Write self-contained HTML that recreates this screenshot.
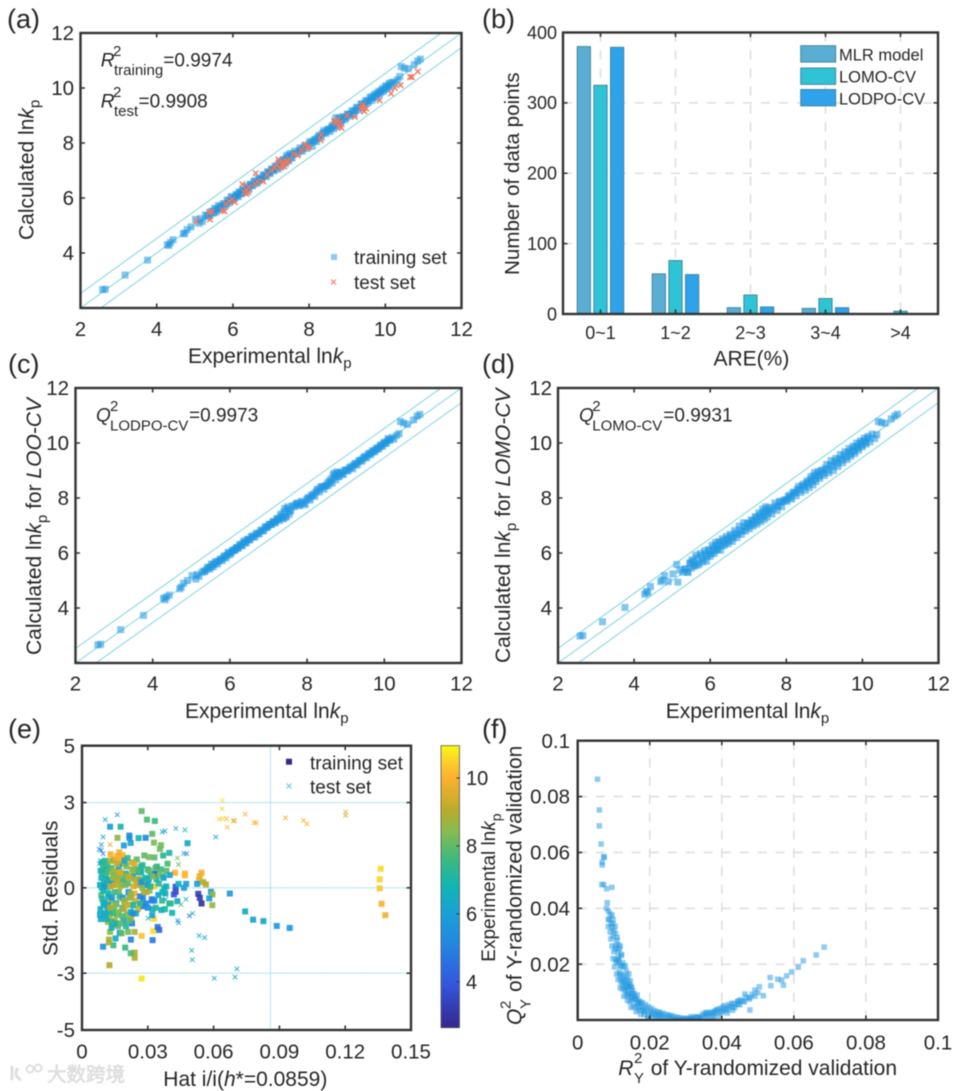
<!DOCTYPE html>
<html lang="en">
<head>
<meta charset="utf-8">
<title>QSPR model validation figure</title>
<style>
html,body{margin:0;padding:0;background:#fff;width:960px;height:1091px;overflow:hidden}
svg{display:block;filter:blur(0.5px)}
text{font-family:"Liberation Sans","Noto Sans CJK SC",sans-serif;fill:#262626}
</style>
</head>
<body>
<svg id="fig" xmlns="http://www.w3.org/2000/svg" width="960" height="1091" viewBox="0 0 960 1091">
<defs>
<clipPath id="clip-a"><rect x="80.5" y="33" width="381" height="275"/></clipPath>
<clipPath id="clip-c"><rect x="75.5" y="388" width="386" height="275"/></clipPath>
<clipPath id="clip-d"><rect x="558" y="388" width="380.5" height="275"/></clipPath>
<clipPath id="clip-e"><rect x="82" y="745.7" width="329" height="284.3"/></clipPath>
<clipPath id="clip-f"><rect x="577.7" y="740.7" width="360.3" height="279.3"/></clipPath>
<linearGradient id="parula" x1="0" y1="1" x2="0" y2="0"></linearGradient>
</defs>
<g id="layer-marks"></g>
<g id="layer-axes"></g>

<!-- panel letters -->
<text x="7" y="28" font-size="27">(a)</text>
<text x="482" y="28" font-size="27">(b)</text>
<text x="8" y="373" font-size="27">(c)</text>
<text x="482" y="373" font-size="27">(d)</text>
<text x="8" y="738" font-size="27">(e)</text>
<text x="482" y="738" font-size="27">(f)</text>

<!-- panel a text -->
<text font-size="19"><tspan x="100.7" y="66.7" font-style="italic">R</tspan><tspan x="113" y="56" font-size="15">2</tspan><tspan x="114" y="75" font-size="15">training</tspan><tspan x="163.3" y="66.7">=0.9974</tspan></text>
<text font-size="19"><tspan x="100.7" y="107.3" font-style="italic">R</tspan><tspan x="113" y="97" font-size="15">2</tspan><tspan x="114" y="116" font-size="15">test</tspan><tspan x="138.5" y="107.3">=0.9908</tspan></text>
<rect x="331" y="254" width="6" height="6" fill="#8ccbef"/>
<text x="354" y="264" font-size="19">training set</text>
<path d="M331 279.5l5 5m0-5l-5 5" stroke="#f0806a" stroke-width="1.2" fill="none"/>
<text x="354" y="289" font-size="19">test set</text>
<text x="188" y="363" font-size="21">Experimental ln<tspan font-style="italic">k</tspan><tspan dy="5" font-size="15">p</tspan></text>
<text transform="translate(33.3,240) rotate(-90)" font-size="21">Calculated ln<tspan font-style="italic">k</tspan><tspan dy="6" font-size="15">p</tspan></text>

<!-- panel b text -->
<text x="713.5" y="365.7" font-size="21">ARE(%)</text>
<text transform="translate(519,275) rotate(-90)" font-size="20.6">Number of data points</text>

<!-- panel c text -->
<text font-size="19"><tspan x="96" y="421.7" font-style="italic">Q</tspan><tspan x="110" y="411" font-size="15">2</tspan><tspan x="110" y="430.7" font-size="15">LODPO-CV</tspan><tspan x="189" y="421.7">=0.9973</tspan></text>
<text x="185" y="718" font-size="21">Experimental ln<tspan font-style="italic">k</tspan><tspan dy="5" font-size="15">p</tspan></text>
<text transform="translate(41,655) rotate(-90)" font-size="21">Calculated ln<tspan font-style="italic">k</tspan><tspan dy="6" font-size="15">p</tspan><tspan dy="-6"> for </tspan><tspan font-style="italic">LOO-CV</tspan></text>

<!-- panel d text -->
<text font-size="19"><tspan x="579" y="421.7" font-style="italic">Q</tspan><tspan x="592.3" y="411" font-size="15">2</tspan><tspan x="592.3" y="430.7" font-size="15">LOMO-CV</tspan><tspan x="663.3" y="421.7">=0.9931</tspan></text>
<text x="665.7" y="718" font-size="21">Experimental ln<tspan font-style="italic">k</tspan><tspan dy="5" font-size="15">p</tspan></text>
<text transform="translate(510,663) rotate(-90)" font-size="21">Calculated ln<tspan font-style="italic">k</tspan><tspan dy="6" font-size="15">p</tspan><tspan dy="-6"> for </tspan><tspan font-style="italic">LOMO-CV</tspan></text>

<!-- panel e text -->
<rect x="286" y="758.7" width="6" height="6" fill="#352a87"/>
<text x="310" y="769.3" font-size="19">training set</text>
<path d="M286.5 783.5l5 5m0-5l-5 5" stroke="#5cc8d8" stroke-width="1" fill="none"/>
<text x="310" y="793.3" font-size="19">test set</text>
<text x="163.3" y="1086" font-size="21">Hat i/i(<tspan font-style="italic">h</tspan>*=0.0859)</text>
<text transform="translate(57.3,956) rotate(-90)" font-size="21">Std. Residuals</text>
<text transform="translate(495,961.7) rotate(-90)" font-size="19">Experimental ln<tspan font-style="italic">k</tspan><tspan dy="6" font-size="14">p</tspan></text>

<!-- panel f text -->
<text font-size="21"><tspan x="618.3" y="1075" font-style="italic">R</tspan><tspan x="634" y="1063" font-size="15">2</tspan><tspan x="634" y="1083" font-size="15">Y</tspan><tspan x="650.7" y="1075">of Y-randomized validation</tspan></text>
<g transform="translate(521.7,1025) rotate(-90)">
<text font-size="21" font-style="italic">Q</text>
<text x="16" y="-11" font-size="15">2</text>
<text x="16" y="9" font-size="15">Y</text>
<text x="33" font-size="21">of Y-randomized validation</text>
</g>

<!-- watermark -->
<g opacity="0.9">
<path d="M12 1066v14M18 1068c-3 4-3 9 3 12" stroke="#dcdcdc" stroke-width="3" fill="none"/>
<circle cx="30" cy="1069" r="3.5" stroke="#dcdcdc" stroke-width="2" fill="none"/>
<circle cx="38" cy="1068" r="3.5" stroke="#dcdcdc" stroke-width="2" fill="none"/>
<text x="47" y="1081" font-size="19.5" style="fill:#e2e2e2;stroke:#cfcfcf;stroke-width:.5">大数跨境</text>
</g>
</svg>

<script>
/* ---------- data: shared experimental lnkp values ---------- */
const expX = [
2.58,2.65,3.17,3.76,4.28,4.32,4.36,4.43,4.70,4.74,
4.80,4.90,5.02,5.12,5.15,5.20,5.28,5.35,5.42,5.48,
5.52,5.57,5.62,5.68,5.74,5.80,5.85,5.90,5.95,6.00,
6.05,6.10,6.14,6.18,6.22,6.27,6.32,6.37,6.42,6.47,
6.52,6.58,6.64,6.70,6.76,6.82,6.88,6.93,6.98,7.03,
7.08,7.13,7.18,7.23,7.28,7.33,7.38,7.42,7.46,7.50,
7.55,7.62,7.70,7.76,7.82,7.88,7.95,8.02,8.08,8.14,
8.20,8.26,8.32,8.38,8.44,8.50,8.55,8.60,8.65,8.70,
8.74,8.78,8.83,8.88,8.94,9.00,9.06,9.12,9.18,9.24,
9.30,9.36,9.42,9.48,9.54,9.60,9.65,9.70,9.75,9.80,
9.85,9.90,9.95,10.00,10.05,10.10,10.15,10.20,10.25,10.32,
10.38,10.42,10.50,10.60,10.76,10.85,10.92];
const expX2 = [
5.33,5.40,5.46,5.51,5.56,5.61,5.66,5.71,5.77,5.83,
5.88,5.93,5.98,6.03,6.08,6.12,6.16,6.20,6.25,6.30,
6.35,6.40,6.45,6.50,6.55,6.61,6.67,6.73,6.79,6.85,
6.91,6.96,7.01,7.06,7.11,7.16,7.21,7.26,7.31,7.36,
7.40,7.44,7.48,7.53,7.58,7.66,7.73,7.79,7.85,7.92,
7.99,8.05,8.11,8.17,8.23,8.29,8.35,8.41,8.47,8.53,
8.58,8.63,8.68,8.72,8.76,8.81,8.86,8.91,8.97,9.03,
9.09,9.15,9.21,9.27,9.33,9.39,9.45,9.51,9.57,9.63,
9.68,9.73,9.78,9.83,9.88,9.93,9.98,10.03,10.08,10.13];
const trainCalc = [
2.67,2.68,3.20,3.74,4.30,4.28,4.38,4.48,4.70,4.72,
4.85,4.95,5.22,5.08,5.25,5.15,5.38,5.32,5.50,5.45,
5.62,5.50,5.72,5.60,5.78,5.70,5.92,5.82,6.05,5.92,
6.00,6.12,6.05,6.22,6.15,6.28,6.20,6.42,6.30,6.48,
6.45,6.62,6.55,6.72,6.68,6.85,6.78,6.95,6.90,7.05,
7.00,7.15,7.05,7.28,7.15,7.40,7.25,7.55,7.35,7.62,
7.45,7.70,7.62,7.82,7.70,7.90,7.80,8.05,7.88,8.12,
8.05,8.28,8.20,8.45,8.35,8.50,8.42,8.60,8.52,8.92,
8.60,8.92,8.72,8.95,8.85,9.05,8.98,9.15,9.05,9.28,
9.20,9.42,9.30,9.52,9.45,9.65,9.55,9.72,9.66,9.82,
9.78,9.92,9.88,10.05,9.98,10.15,10.08,10.22,10.18,10.30,
10.42,10.78,10.72,10.70,10.85,10.98,11.05];
const trainCalc2 = [
5.38,5.36,5.52,5.47,5.60,5.58,5.70,5.68,5.80,5.78,
5.92,5.90,6.02,5.98,6.12,6.08,6.20,6.16,6.30,6.26,
6.38,6.36,6.50,6.46,6.60,6.56,6.70,6.68,6.82,6.80,
6.95,6.90,7.05,7.00,7.15,7.10,7.28,7.20,7.38,7.30,
7.48,7.38,7.55,7.48,7.60,7.62,7.72,7.75,7.82,7.88,
7.96,8.02,8.06,8.14,8.20,8.25,8.35,8.38,8.46,8.50,
8.55,8.65,8.70,8.75,8.72,8.85,8.82,8.95,8.92,9.05,
9.05,9.18,9.18,9.30,9.28,9.42,9.42,9.55,9.52,9.68,
9.64,9.78,9.74,9.88,9.85,9.98,9.94,10.08,10.04,10.18];
const testExp = [
5.05,5.4,5.38,5.45,5.72,5.78,5.82,5.9,5.98,6.05,
6.25,6.3,6.35,6.35,6.4,6.42,6.6,6.58,6.65,6.8,
6.9,7.0,7.1,7.15,7.2,7.25,7.3,7.32,7.35,7.4,
7.42,7.48,7.6,7.7,7.8,7.9,7.95,8.0,8.3,8.32,
8.65,8.7,8.75,8.8,8.82,8.85,9.0,9.2,9.35,9.4,
9.42,9.45,9.5,9.85,10.15,10.25,10.4,10.65,10.7,10.85];
const testCalc = [
5.15,5.22,5.48,5.5,5.55,5.52,5.78,5.88,5.95,5.85,
6.5,6.22,6.3,6.15,6.2,6.4,6.9,6.5,6.6,6.6,
6.85,7.0,7.1,7.2,7.4,7.1,7.2,7.3,7.15,7.3,
7.35,7.4,7.6,7.55,7.75,7.95,7.85,7.85,8.1,8.3,
8.8,8.7,8.85,8.6,8.75,8.55,9.0,8.95,9.25,9.3,
9.4,9.15,9.25,9.55,9.8,10.0,10.1,10.4,10.4,10.6];
const lodpoCalc = [
2.66,2.68,3.21,3.73,4.36,4.30,4.40,4.47,4.70,4.76,
4.90,5.00,5.18,5.05,5.22,5.15,5.30,5.32,5.48,5.42,
5.60,5.50,5.68,5.60,5.76,5.72,5.88,5.82,6.02,5.94,
6.06,6.10,6.12,6.20,6.18,6.32,6.26,6.44,6.36,6.50,
6.48,6.62,6.58,6.72,6.70,6.84,6.82,6.96,6.94,7.05,
7.04,7.15,7.10,7.26,7.18,7.42,7.24,7.62,7.32,7.68,
7.50,7.72,7.76,7.82,7.74,7.84,7.76,8.00,7.92,8.08,
8.06,8.30,8.22,8.40,8.32,8.45,8.46,8.58,8.54,8.90,
8.66,8.95,8.78,8.92,8.86,9.02,8.98,9.12,9.06,9.24,
9.20,9.36,9.34,9.50,9.46,9.62,9.58,9.72,9.68,9.80,
9.78,9.92,9.88,10.02,9.98,10.16,10.10,10.20,10.14,10.28,
10.34,10.78,10.72,10.68,10.84,10.98,11.04];
const lodpoCalc2 = [
5.35,5.40,5.48,5.50,5.58,5.60,5.68,5.70,5.78,5.82,
5.90,5.92,6.00,6.00,6.10,6.10,6.18,6.18,6.28,6.28,
6.38,6.38,6.48,6.48,6.58,6.58,6.68,6.70,6.80,6.80,
6.92,6.94,7.02,7.04,7.12,7.12,7.22,7.24,7.35,7.28,
7.50,7.30,7.60,7.40,7.55,7.68,7.80,7.72,7.88,7.80,
7.95,8.02,8.10,8.15,8.22,8.32,8.40,8.42,8.44,8.55,
8.62,8.70,8.84,8.76,8.88,8.78,8.92,8.86,9.00,9.02,
9.08,9.14,9.20,9.26,9.32,9.38,9.44,9.50,9.56,9.62,
9.66,9.72,9.76,9.82,9.86,9.92,9.98,10.02,10.08,10.12];
const lomoCalc = [
2.98,3.00,3.50,4.02,4.50,4.60,4.56,4.78,4.96,5.02,
5.18,4.96,5.24,5.58,4.94,5.38,5.30,5.42,5.30,5.65,
5.75,5.52,5.92,5.56,5.98,5.68,6.08,5.70,6.12,5.88,
6.28,5.98,6.38,6.12,6.42,6.10,6.52,6.28,6.60,6.34,
6.68,6.42,6.82,6.56,6.98,6.68,7.10,6.80,7.08,6.88,
7.20,6.98,7.32,7.05,7.46,7.14,7.60,7.22,7.68,7.30,
7.66,7.42,7.82,7.55,7.88,7.68,7.92,7.88,8.10,7.96,
8.22,8.08,8.42,8.20,8.50,8.28,8.62,8.38,8.78,8.48,
8.92,8.60,8.96,8.72,9.02,8.82,9.22,8.92,9.36,9.00,
9.44,9.15,9.58,9.28,9.68,9.40,9.80,9.52,9.88,9.62,
10.00,9.74,10.08,9.86,10.18,9.96,10.24,10.04,10.32,10.16,
10.30,10.78,10.74,10.72,10.88,10.98,11.05];
const lomoCalc2 = [
5.42,5.30,5.62,5.45,5.70,5.55,5.82,5.62,5.90,5.78,
5.98,5.88,6.10,5.98,6.18,6.08,6.28,6.15,6.35,6.25,
6.45,6.35,6.52,6.45,6.62,6.55,6.72,6.68,6.84,6.80,
6.96,6.94,7.08,7.02,7.18,7.10,7.30,7.20,7.38,7.32,
7.50,7.40,7.58,7.48,7.55,7.62,7.70,7.72,7.85,7.88,
7.95,8.05,8.02,8.18,8.18,8.32,8.30,8.44,8.42,8.56,
8.52,8.68,8.62,8.80,8.70,8.85,8.80,8.98,8.90,9.08,
9.02,9.20,9.14,9.32,9.25,9.42,9.38,9.55,9.48,9.68,
9.60,9.76,9.70,9.88,9.82,9.98,9.92,10.06,10.02,10.16];
/* ---------- data: panel b ---------- */
const areBins = ["0~1","1~2","2~3","3~4",">4"];
const mlrCounts = [380,57,9,8,0];
const lomoCounts = [325,76,27,22,4];
const lodpoCounts = [379,56,10,9,0];
const countTicks = [0,100,200,300,400];
/* ---------- data: panel e ---------- */
const hatTrain = [
.0272,.0296,.0332,.0128,.0176,.0162,.0216,.0216,.029,.0258,
.032,.0191,.0222,.0481,.0328,.036,.0355,.0398,.0284,.0305,
.033,.037,.013,.0145,.016,.017,.0185,.019,.015,.0175,
.0424,.0469,.0469,.0537,.0545,.0534,.0553,.0565,.0525,.0332,
.0332,.0427,.0427,.0419,.053,.0537,.0545,.0588,.0595,.058,
.0594,.0674,.0744,.078,.0827,.0888,.0947,.1362,.1357,.1357,
.1366,.1383,.0272,.0125,.024,.024,.0222,.0197,.0143,.0096,
.0123,.0123,.0128,.0153,.0172,.0223,.0272,.0322,.0325,.0345,
.0352,.0328,.032,.0411,.0435,.0362,.0398,.044,.0475,.0465,
.009,.0085,.0095,.0082,.009,.0088,.01,.0102,.0108,.0115,
.0084,.0082,.0086,.011,.0118,.0125,.0132,.014,.0115,.0108,
.012,.0128,.0135,.0142,.015,.0158,.0165,.0172,.018,.0188,
.0195,.0202,.021,.0218,.0225,.0232,.024,.0248,.0255,.0262,
.027,.0278,.0285,.0292,.03,.0308,.0315,.0322,.033,.034,
.0122,.013,.0138,.0145,.0152,.016,.0168,.0175,.0183,.019,
.0198,.0205,.0212,.022,.0228,.0235,.0242,.025,.0258,.0265,
.0135,.015,.0165,.018,.0195,.021,.0225,.024,.0255,.027,
.0105,.0112,.012,.013,.0145,.016,.0178,.0192,.0208,.0222,
.0235,.0248,.0262,.0275,.029,.0305,.032,.0335,.035,.0365,
.0375,.038,.039,.0385,.037,.04,.0405,.028,.0265,.03,
.0088,.0092,.0098,.0104,.011,.0116,.0124,.013,.0137,.0143,
.015,.0156,.0162,.0168,.0174,.018,.0186,.0192,.0198,.0204,
.021,.0216,.0222,.0228,.0234,.024,.0246,.0252,.0258,.0264,
.027,.0276,.0282,.0288,.0294,.03,.0306,.0312,.0318,.0324,
.033,.0336,.0342,.0348,.0354,.036,.0366,.0372,.0378,.0384,
.0092,.0098,.0105,.0112,.012,.0128,.0136,.0144,.0152,.016,
.0168,.0176,.0184,.0192,.02,.0208,.0216,.0224,.0232,.024];
const resTrain = [
2.7,2.4,2.35,2.15,2.15,1.76,1.84,1.76,1.76,1.75,
1.9,1.49,1.58,1.57,1.59,1.5,1.37,1.23,1.14,1.08,
1.07,1.14,1.18,1.0,1.12,1.25,1.15,1.0,.95,1.05,
.53,.5,.44,.41,.53,.29,.2,.12,.14,.49,
.44,.04,-.14,-.23,-.21,-.35,-.55,-.14,-.23,-.37,
-.61,-.2,-.83,-1.12,-1.17,-1.34,-1.41,.67,.3,-.02,
-.56,-.96,-3.19,-2.72,-2.46,-2.28,-2.3,-2.1,-2.02,-2.07,
-1.82,-1.92,-1.55,-1.78,-1.58,-1.82,-1.69,-1.84,-1.52,-1.38,
-1.48,-1.09,-.96,-.88,-.47,-.78,-.55,.14,.14,.0,
.9,.6,.75,.1,.0,-.25,.15,-.5,.4,-.7,
-.75,-.95,-1.1,-1.0,-1.2,-1.05,-.85,-1.3,.8,.65,
.55,.3,.7,.1,-.15,.6,.35,-.3,.85,.2,
-.5,.75,.15,-.6,.9,.4,-.2,.65,-.75,.1,
.55,-.35,.25,-.55,.65,-.1,.45,-.75,.05,.3,
-.2,-.45,.15,-.7,.4,-.95,.75,.05,-.7,-1.15,
.5,-.95,-.15,.35,-1.25,.05,-.45,1.0,.3,-.3,
-1.4,-1.15,-1.35,-1.6,.95,-1.55,-1.05,.85,.3,.75,
.95,.3,-.3,.95,.55,.85,.5,.3,1.05,-.2,
.6,.1,.55,.0,.15,.3,-.45,.7,.15,-.45,
.0,-.2,.85,.6,.4,.45,-.55,-.65,-.55,-.7,
.35,.55,-.1,.05,.55,.2,-.85,.05,-.35,.35,
.1,-.55,.25,-.15,.55,.1,-.35,-.75,.1,.45,
.4,-.35,-.85,.65,-.6,.3,-.9,.15,.55,-.55,
.2,.8,-.15,.35,-.15,.1,.6,.05,-.4,.4,
-.45,-.7,.75,-.25,.45,.65,-.15,.35,-.75,.05,
-.4,-.6,-.9,-1.1,-.6,-.7,-1.2,-.9,-.6,-1.25,
-.85,-1.25,-1.0,-.45,-1.35,-.6,-1.15,-.3,-.9,-1.55];
const lnkTrain = [
8,7.8,7.6,6,7,8.6,5.5,5.4,5.2,6.8,
8,6,6,6.3,8.3,8.2,8.2,7,8,8.3,
8,7.6,9.9,9.7,10,9.8,10,9.6,9.7,9.9,
10,10,10.1,9.8,9.8,9.9,9,9,6,3.9,
3.8,3.8,3.6,3.9,3.3,3.2,2.9,5.7,8.5,6,
8.6,5.8,6.5,6.2,6.2,5.8,5.8,10.6,10.5,10.3,
10,9.9,10.7,9,9,9,7.8,7.5,7.5,5.5,
8.8,8.9,8.5,6.5,6,5,10.3,4.8,10.7,4.6,
4.4,10.6,6,6.8,6.5,6.5,7,6.7,6,6,
7,6.8,7.5,6.5,7,7.8,6.8,6,7.3,6.7,
6.5,6.4,6.2,7.5,9,9.2,8,8.5,7.4,7,
9,8.5,7.8,9.3,7.5,9.5,8.2,6.5,8.8,5.8,
9.2,8.5,7.9,8,9.4,5.2,9.8,7.6,9.5,8.5,
7,5.2,7.8,5,7.5,8.5,6.8,6.8,10.5,6.9,
7.2,9.3,5.5,7.8,8.4,8.2,6.2,9.6,8,6.2,
6.2,8.3,5.4,8.7,5,9.6,9.5,8,4.5,5,
6.5,9.1,8,8,6,8.2,9.3,9.5,9,6.8,
7.2,6.2,6.6,8.8,8.7,9.2,9,7.7,7.5,8.5,
8.8,9.5,6,8.3,8.6,6.3,5,8,7.3,7.5,
7.2,6.5,7.8,8,7.8,6.2,7.5,5,4.8,5.2,
6.6,7.2,6.8,5.6,7.6,6.4,7,9,5.8,8.6,
9.2,6.4,9,8,9.4,8.6,5.6,9,8.2,7.8,
9.2,8.2,6.3,8.4,7,8.7,6.6,9.3,7.4,7.6,
5.5,7.4,8.8,7,9,5.6,8,7.2,5,8.4,
5,7.2,7.6,6,8.2,7.6,6.8,6.2,7,6.6,
7,6.5,6.2,6.8,6.5,9,7.2,7.6,8.5,6.6,
8.3,8.1,7.8,8.6,7.2,9.4,8,8.8,5.2,8.8];
const hatTest = [
.0106,.0161,.0428,.0469,.0366,.0378,.0096,.061,.0088,.0079,
.0088,.0096,.0128,.0477,.0465,.0435,.044,.037,.0639,.0639,
.0625,.064,.0659,.0662,.069,.0695,.0744,.0785,.0795,.0928,
.101,.1025,.1202,.1202,.0534,.0559,.05,.0503,.0706,.0698,
.0603,.0436,.044,.049,.0504,.0302,.0474,.0451,.0381,.0079,
.0084,.0095,.0105,.012,.014,.0165,.02,.023,.0255,.029];
const resTest = [
2.4,2.57,2.09,2.04,1.97,2,1.79,1.79,1.52,1.35,
1.32,1.2,1.52,1.2,1.21,1.05,.82,1.11,3.07,2.78,
2.41,2.43,2.43,2.13,2.35,2.37,2.59,2.29,2.29,2.46,
2.37,2.25,2.67,2.55,-1.68,-1.75,-2.2,-2.53,-2.85,-3.14,
-3.18,-1.15,-1.23,-.98,-.9,-1.07,-.4,-.59,-.41,.85,
.95,.6,.3,-.1,.5,-.4,.8,-.75,.6,.3];
const lnkTest = [
6,5.8,5.8,6.6,6.4,6,6.5,6.3,6,5,
5.2,5.5,9.5,5.5,5.3,8.3,8,7,10.7,10.5,
10.4,10.5,10,10,9.7,9.6,10,10,10,9.8,
10,10,9.6,9.4,6.5,6,6.6,6.4,6.5,6,
6.3,5.5,6,4.5,6.6,6.8,7,7.8,6.5,6.5,
7,6.5,7.5,7,8,8.5,7.5,6.5,8,6.7];
const hatTicks = [0,0.03,0.06,0.09,0.12,0.15];
const resTicks = [-5,-3,0,3,5];
const lnkBarTicks = [4,6,8,10];
const hatLimit = [0.0859];
const resLimits = [-3,0,3];
/* ---------- data: panel f ---------- */
const r2Y = [
.0055,.006,.006,.0065,.0072,.0074,.0068,.0068,.0067,.0072,
.008,.0095,.0082,.008,.0085,.009,.0088,.0095,.0098,.0085,
.009,.0095,.01,.0105,.0092,.0098,.0108,.0112,.0118,.0095,
.01,.0105,.0112,.012,.0098,.0105,.0112,.0102,.0108,.0115,
.012,.0128,.0135,.0108,.0115,.012,.0128,.0135,.0142,.0112,
.012,.0128,.0135,.0142,.015,.0118,.0125,.0132,.014,.0148,
.0128,.0135,.0142,.015,.0158,.0165,.0138,.0145,.0152,.016,
.0168,.0175,.0148,.0155,.0162,.017,.0178,.0185,.0162,.017,
.0178,.0185,.0192,.02,.0208,.0175,.0185,.0195,.0205,.0215,
.0222,.023,.0195,.021,.0225,.024,.0255,.022,.0235,.025,
.0265,.028,.0295,.031,.0272,.0288,.0305,.032,.0335,.0315,
.033,.0345,.036,.0375,.0345,.036,.0375,.039,.0355,.037,
.0385,.04,.0415,.043,.0385,.04,.0415,.043,.0445,.0405,
.042,.0435,.045,.0445,.0462,.0478,.0464,.0478,.0492,.0504,
.0515,.0534,.0536,.0555,.0566,.0571,.058,.0594,.0612,.0626,
.0662,.0684,
.0085,.0092,.0098,.0104,.011,.0116,.0122,.0105,.0112,.0118,
.0125,.0132,.0139,.0146,.0118,.0124,.0131,.0138,.0145,.0152,
.0125,.0132,.014,.0148,.0156,.0164,.0172,.018,.0188,.0196,
.0204,.0212,.022,.0228,.0236,.0244,.0252,.026,.0268,.0276,
.0284,.0292,.03,.0308,.0316,.0324,.0332,.034,.0348,.0356,
.0364,.0372,.038,.0388,.0396,.0404,.0412,.042,.0428,.0436,
.0444,.0452,.046,.0468,.0476,.0484,.0492,.05,.0152,.0165];
const q2Y = [
.0862,.0752,.0695,.063,.0585,.0582,.0565,.0555,.0485,.0485,
.047,.0475,.042,.04,.039,.038,.036,.0375,.036,.0335,
.0315,.033,.032,.031,.029,.03,.0285,.027,.0265,.0265,
.0245,.0255,.0245,.023,.022,.0215,.0225,.019,.0205,.021,
.0195,.019,.0175,.0165,.017,.0165,.016,.0155,.0165,.0145,
.0135,.014,.0125,.013,.0115,.0115,.011,.0105,.0105,.012,
.0085,.009,.0085,.0095,.0085,.009,.007,.0065,.007,.0075,
.0065,.006,.0045,.005,.0045,.005,.0045,.004,.003,.0035,
.0035,.003,.0035,.003,.0025,.002,.002,.0015,.0018,.002,
.0022,.0018,.0008,.001,.0012,.0012,.0012,.0004,.0005,.0005,
.0005,.0002,.0002,.0002,.0001,.0,.0001,.0004,.0008,.0012,
.0012,.0015,.0015,.0015,.0008,.0008,.0012,.0015,.0022,.0025,
.0025,.0028,.0025,.0035,.0035,.0032,.004,.0045,.0055,.0052,
.0055,.0058,.0055,.0068,.0065,.0036,.0093,.008,.0107,.0119,
.0087,.0152,.0123,.0146,.0143,.0125,.0158,.0172,.0189,.0212,
.0233,.0261,
.036,.0345,.0345,.0335,.0295,.0255,.0235,.0265,.0215,.019,
.0205,.0195,.0145,.014,.0155,.0145,.0135,.0118,.0122,.0105,
.0125,.0115,.0095,.0085,.0095,.0075,.0068,.0062,.0055,.0048,
.0042,.0035,.003,.0028,.0024,.002,.0018,.0016,.0012,.001,
.0008,.0006,.0006,.0006,.0006,.0008,.001,.0005,.0022,.0028,
.0025,.0028,.0032,.0038,.0042,.0045,.0035,.0048,.006,.0045,
.0065,.0072,.0068,.0082,.0075,.0092,.0085,.0098,.0078,.0058];
const fTicks = [0,0.02,0.04,0.06,0.08,0.1];
const lnkTicksX = [2,4,6,8,10,12];
const lnkTicksY = [4,6,8,10,12];

/* ---------- drawing ---------- */
const NS = 'http://www.w3.org/2000/svg';
const marks = document.getElementById('layer-marks');
const axes = document.getElementById('layer-axes');
const AX = '#333333';
const LINE = '#6fd0dc';
const BLUE = '#1f98e2';
const parulaStops = ['#35278f','#3358e0','#2288e0','#1a9fd8','#0fb5b5','#3dba7d','#8bbb4f','#b8ac2a','#fdb030','#fbd42a','#f9fb0e'];
const parulaOffsets = [0,.16,.3,.4,.5,.6,.7,.77,.885,.95,1];
const lnkMin = 2.65, lnkMax = 10.95;

function make(tag, parent) {
  const n = document.createElementNS(NS, tag);
  parent.appendChild(n);
  return n;
}
function sx(p, v) { return p.l + (v - p.x0) / (p.x1 - p.x0) * (p.r - p.l); }
function sy(p, v) { return p.b - (v - p.y0) / (p.y1 - p.y0) * (p.b - p.t); }
function hex2(c) { return [1,3,5].map(i => parseInt(c.substr(i,2),16)); }
function parula(v) {
  const t = Math.max(0, Math.min(1, (v - lnkMin) / (lnkMax - lnkMin)));
  let i = 0;
  while (i < parulaOffsets.length - 2 && t > parulaOffsets[i + 1]) i++;
  const f = (t - parulaOffsets[i]) / (parulaOffsets[i + 1] - parulaOffsets[i]);
  const a = hex2(parulaStops[i]), b = hex2(parulaStops[i + 1]);
  return 'rgb(' + a.map((c, k) => Math.round(c + (b[k] - c) * f)).join(',') + ')';
}
function group(parent, clipId, name) {
  const g = make('g', parent);
  
  
  if (clipId) g.setAttribute('clip-path', 'url(#' + clipId + ')');
  return g;
}
function squares(g, p, xs, ys, size, fill, op, colors) {
  xs.forEach((x, i) => {
    const s = make('rect', g);
    
    
    s.setAttribute('x', sx(p, x) - size / 2);
    s.setAttribute('y', sy(p, ys[i]) - size / 2);
    s.setAttribute('width', size);
    s.setAttribute('height', size);
    s.setAttribute('fill', colors ? parula(colors[i]) : fill);
    s.setAttribute('fill-opacity', op);
  });
}
function crosses(g, p, xs, ys, size, stroke, op, colors, width) {
  xs.forEach((x, i) => {
    const c = make('path', g);
    
    
    const px = sx(p, x), py = sy(p, ys[i]), h = size / 2;
    c.setAttribute('d', `M${px-h} ${py-h}L${px+h} ${py+h}M${px+h} ${py-h}L${px-h} ${py+h}`);
    c.setAttribute('stroke', colors ? parula(colors[i]) : stroke);
    c.setAttribute('stroke-width', width);
    c.setAttribute('stroke-opacity', op);
    c.setAttribute('fill', 'none');
  });
}
function refLine(g, x1, y1, x2, y2, dash) {
  const l = make('line', g);
  
  
  l.setAttribute('x1', x1); l.setAttribute('y1', y1);
  l.setAttribute('x2', x2); l.setAttribute('y2', y2);
  l.setAttribute('stroke', LINE);
  l.setAttribute('stroke-width', 0.9);
  if (dash) l.setAttribute('stroke-dasharray', dash);
}
function parityLines(g, p) {
  [0, 0.53, -0.53].forEach(d => {
    refLine(g, sx(p, p.x0), sy(p, p.x0 + d), sx(p, p.x1), sy(p, p.x1 + d));
  });
}
function gridLine(g, x1, y1, x2, y2) {
  const l = make('line', g);
  
  
  l.setAttribute('x1', x1); l.setAttribute('y1', y1);
  l.setAttribute('x2', x2); l.setAttribute('y2', y2);
  l.setAttribute('stroke', '#dedede');
  l.setAttribute('stroke-width', 1.6);
  l.setAttribute('stroke-dasharray', '9 9');
}
function frame(p, xTicks, yTicks, xText, yText, size) {
  const g = group(axes, null, 'axes-' + p.id);
  const box = make('rect', g);
  
  
  box.setAttribute('x', p.l); box.setAttribute('y', p.t);
  box.setAttribute('width', p.r - p.l); box.setAttribute('height', p.b - p.t);
  box.setAttribute('fill', 'none');
  box.setAttribute('stroke', AX);
  box.setAttribute('stroke-width', 2.4);
  let d = '';
  xTicks.forEach(v => { const x = sx(p, v); d += `M${x} ${p.b}v-4.5M${x} ${p.t}v4.5`; });
  yTicks.forEach(v => { const y = sy(p, v); d += `M${p.l} ${y}h4.5M${p.r} ${y}h-4.5`; });
  const tk = make('path', g);
  
  
  tk.setAttribute('d', d);
  tk.setAttribute('stroke', AX);
  tk.setAttribute('stroke-width', 1.6);
  tk.setAttribute('fill', 'none');
  xTicks.forEach((v, i) => {
    const t = make('text', g);
    
    
    t.setAttribute('x', sx(p, v));
    t.setAttribute('y', p.xBase);
    t.setAttribute('text-anchor', 'middle');
    t.setAttribute('font-size', size);
    t.textContent = xText[i];
  });
  yTicks.forEach((v, i) => {
    const t = make('text', g);
    
    
    t.setAttribute('x', p.yRight);
    t.setAttribute('y', sy(p, v) + size * 0.35);
    t.setAttribute('text-anchor', 'end');
    t.setAttribute('font-size', size);
    t.textContent = yText[i];
  });
}

const A = {id:'a', l:80.5, r:461.5, t:33, b:308, x0:2, x1:12, y0:2, y1:12, xBase:336, yRight:74};
const B = {id:'b', l:563, r:938, t:32.5, b:314, x0:0.5, x1:5.5, y0:0, y1:400, xBase:339, yRight:557};
const C = {id:'c', l:75.5, r:461.5, t:388, b:663, x0:2, x1:12, y0:2, y1:12, xBase:690.7, yRight:69};
const D = {id:'d', l:558, r:938.5, t:388, b:663, x0:2, x1:12, y0:2, y1:12, xBase:690.7, yRight:552};
const E = {id:'e', l:82, r:411, t:745.7, b:1030, x0:0, x1:0.15, y0:-5, y1:5, xBase:1058.3, yRight:75};
const F = {id:'f', l:577.7, r:938, t:740.7, b:1020, x0:0, x1:0.1, y0:0, y1:0.1, xBase:1049.3, yRight:570};

/* panel a */
const ga = group(marks, 'clip-a', 'panel-a-series');
parityLines(ga, A);
squares(ga, A, expX.concat(expX2), trainCalc.concat(trainCalc2), 7, BLUE, 0.55);
crosses(ga, A, testExp, testCalc, 5.5, '#f0785e', 1, null, 1.4);
frame(A, lnkTicksX, lnkTicksY, lnkTicksX, lnkTicksY, 20.5);

/* panel b */
const gb = group(marks, null, 'panel-b-series');
[1,2,3,4,5].forEach(v => gridLine(gb, sx(B, v), B.t, sx(B, v), B.b));
[100,200,300].forEach(v => gridLine(gb, B.l, sy(B, v), B.r, sy(B, v)));
const barSeries = [
  {vals: mlrCounts, off: -0.222, fill: '#5aaed3', name: 'bar-mlr'},
  {vals: lomoCounts, off: 0, fill: '#2fc3d6', name: 'bar-lomo'},
  {vals: lodpoCounts, off: 0.222, fill: '#2fa3ea', name: 'bar-lodpo'}
];
barSeries.forEach(s => {
  s.vals.forEach((v, i) => {
    if (v <= 0) return;
    const r = make('rect', gb);
    
    
    r.setAttribute('x', sx(B, i + 1 + s.off - 0.089));
    r.setAttribute('y', sy(B, v));
    r.setAttribute('width', 13.3);
    r.setAttribute('height', B.b - sy(B, v));
    r.setAttribute('fill', s.fill);
    r.setAttribute('stroke', '#3f7f97');
    r.setAttribute('stroke-width', 0.9);
  });
});
const legendItems = [
  {label: 'MLR model', fill: '#5aaed3', y: 45.7, base: 60.7},
  {label: 'LOMO-CV', fill: '#2fc3d6', y: 68, base: 82.7},
  {label: 'LODPO-CV', fill: '#2fa3ea', y: 89.5, base: 104.7}
];
legendItems.forEach(it => {
  const r = make('rect', gb);
  
  
  r.setAttribute('x', 800.7); r.setAttribute('y', it.y);
  r.setAttribute('width', 35); r.setAttribute('height', 16.4);
  r.setAttribute('fill', it.fill);
  r.setAttribute('stroke', '#3f7f97');
  r.setAttribute('stroke-width', 0.9);
  const t = make('text', gb);
  
  
  t.setAttribute('x', 839); t.setAttribute('y', it.base);
  t.setAttribute('font-size', 16.5);
  t.textContent = it.label;
});
frame(B, [1,2,3,4,5], countTicks, areBins, countTicks, 18);

/* panel c */
const gc = group(marks, 'clip-c', 'panel-c-series');
parityLines(gc, C);
squares(gc, C, expX.concat(expX2), lodpoCalc.concat(lodpoCalc2), 7, BLUE, 0.55);
frame(C, lnkTicksX, lnkTicksY, lnkTicksX, lnkTicksY, 20.5);

/* panel d */
const gd = group(marks, 'clip-d', 'panel-d-series');
parityLines(gd, D);
squares(gd, D, expX.concat(expX2), lomoCalc.concat(lomoCalc2), 7, BLUE, 0.55);
frame(D, lnkTicksX, lnkTicksY, lnkTicksX, lnkTicksY, 20.5);

/* panel e */
const ge = group(marks, 'clip-e', 'panel-e-series');
resLimits.forEach(v => refLine(ge, E.l, sy(E, v), E.r, sy(E, v), '1.5 1'));
hatLimit.forEach(v => refLine(ge, sx(E, v), E.t, sx(E, v), E.b, '1.5 1'));
squares(ge, E, hatTrain, resTrain, 6, null, 0.92, lnkTrain);
crosses(ge, E, hatTest, resTest, 4.5, null, 0.85, lnkTest, 1);
frame(E, hatTicks, resTicks, hatTicks, resTicks, 20.5);

/* colorbar */
const grad = document.getElementById('parula');
parulaStops.forEach((c, i) => {
  const st = make('stop', grad);
  st.setAttribute('offset', parulaOffsets[i]);
  st.setAttribute('stop-color', c);
});
const cbar = group(axes, null, 'colorbar');
const cb = {t: 745.7, b: 1027.7, l: 441, r: 459.5};
const cbRect = make('rect', cbar);


cbRect.setAttribute('x', cb.l); cbRect.setAttribute('y', cb.t);
cbRect.setAttribute('width', cb.r - cb.l); cbRect.setAttribute('height', cb.b - cb.t);
cbRect.setAttribute('fill', 'url(#parula)');
cbRect.setAttribute('stroke', '#555');
cbRect.setAttribute('stroke-width', 0.8);
lnkBarTicks.forEach(v => {
  const y = cb.b - (v - lnkMin) / (lnkMax - lnkMin) * (cb.b - cb.t);
  const tk = make('line', cbar);
  
  
  tk.setAttribute('x1', cb.r - 3); tk.setAttribute('x2', cb.r);
  tk.setAttribute('y1', y); tk.setAttribute('y2', y);
  tk.setAttribute('stroke', '#333');
  const t = make('text', cbar);
  
  
  t.setAttribute('x', 466); t.setAttribute('y', y + 7);
  t.setAttribute('font-size', 20);
  t.textContent = v;
});

/* panel f */
const gf = group(marks, 'clip-f', 'panel-f-series');
[0.02,0.04,0.06,0.08].forEach(v => gridLine(gf, sx(F, v), F.t, sx(F, v), F.b));
[0.02,0.04,0.06,0.08].forEach(v => gridLine(gf, F.l, sy(F, v), F.r, sy(F, v)));
squares(gf, F, r2Y, q2Y, 5.5, BLUE, 0.5);
frame(F, fTicks, fTicks.slice(1), fTicks, fTicks.slice(1), 20.5);
</script>
</body>
</html>
